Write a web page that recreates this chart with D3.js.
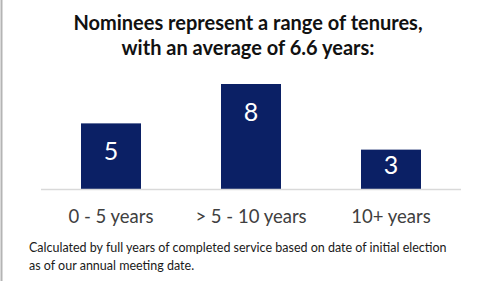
<!DOCTYPE html>
<html>
<head>
<meta charset="utf-8">
<script src="https://cdn.jsdelivr.net/npm/d3@7"></script>
<style>
  html, body { margin: 0; padding: 0; background: #fff; }
  svg { display: block; font-family: Lato, "Open Sans", sans-serif; }
</style>
</head>
<body>
<svg id="chart" width="491" height="281"></svg>
<script>
  // 数据
  const titleLines = ["Nominees represent a range of tenures,", "with an average of 6.6 years:"];
  const categories = ["0 - 5 years", "> 5 - 10 years", "10+ years"];
  const counts = [5, 8, 3];
  const noteLines = [
    "Calculated by full years of completed service based on date of initial election",
    "as of our annual meeting date."
  ];

  const W = 491, H = 281;
  const svg = d3.select("#chart");
  const BAR = "#0b2065";

  // 左侧灰色竖线
  svg.append("line").attr("x1", 1.5).attr("x2", 1.5).attr("y1", 0).attr("y2", H)
    .attr("stroke", "#b4b4b4").attr("stroke-width", 2);

  // 标题
  svg.append("g").selectAll("text").data(titleLines).join("text")
    .attr("x", 248).attr("y", (d, i) => 30 + i * 25)
    .attr("text-anchor", "middle").attr("font-size", 20).attr("font-weight", 700)
    .attr("fill", "#111").text((d) => d);

  // 比例尺
  const x = d3.scaleBand().domain(categories).range([41, 461])
    .paddingInner(4 / 7).paddingOuter(2 / 7);
  const y = d3.scaleLinear().domain([0, 8]).range([189, 84]);

  // 柱
  const data = categories.map((c, i) => ({ c, v: counts[i] }));
  svg.append("g").selectAll("rect").data(data).join("rect")
    .attr("x", (d) => x(d.c)).attr("width", x.bandwidth())
    .attr("y", (d) => y(d.v)).attr("height", (d) => y(0) - y(d.v))
    .attr("fill", BAR);

  // 柱内数值
  svg.append("g").selectAll("text").data(data).join("text")
    .attr("x", (d) => x(d.c) + x.bandwidth() / 2)
    .attr("y", (d) => Math.min(y(d.v) + 37, y(0) - 15))
    .attr("text-anchor", "middle").attr("font-size", 25).attr("fill", "#fff")
    .text((d) => d.v);

  // 基线
  svg.append("line").attr("x1", 41).attr("x2", 461).attr("y1", y(0) + 0.5).attr("y2", y(0) + 0.5)
    .attr("stroke", "#d9d9d9").attr("stroke-width", 1.5);

  // 类别标签
  svg.append("g").selectAll("text").data(categories).join("text")
    .attr("x", (d) => x(d) + x.bandwidth() / 2).attr("y", 223)
    .attr("text-anchor", "middle").attr("font-size", 18.5).attr("fill", "#404040")
    .text((d) => d);

  // 脚注
  svg.append("g").selectAll("text").data(noteLines).join("text")
    .attr("x", 29).attr("y", (d, i) => 252 + i * 18)
    .attr("font-size", 12.5).attr("fill", "#1a1a1a")
    .text((d) => d);
</script>
</body>
</html>
